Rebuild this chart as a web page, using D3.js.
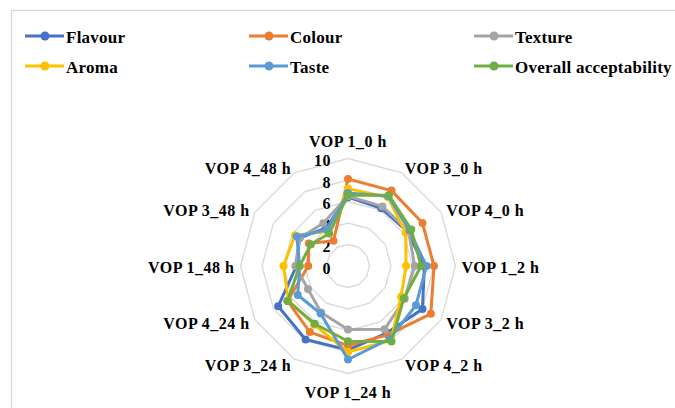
<!DOCTYPE html>
<html>
<head>
<meta charset="utf-8">
<script src="https://cdn.jsdelivr.net/npm/d3@7"></script>
<style>
  html, body { margin: 0; padding: 0; background: #fff; }
  svg { display: block; }
  svg text { font-family: "Liberation Serif", "Times New Roman", Times, Tinos, "DejaVu Serif", "Noto Serif", Georgia, serif; font-weight: 700; letter-spacing: 0.5px; }
  svg text.leg { letter-spacing: 0.25px; }
</style>
</head>
<body>
<svg id="chart" width="675" height="408"></svg>
<script>
const categories = ["VOP 1_0 h", "VOP 3_0 h", "VOP 4_0 h", "VOP 1_2 h", "VOP 3_2 h", "VOP 4_2 h",
                    "VOP 1_24 h", "VOP 3_24 h", "VOP 4_24 h", "VOP 1_48 h", "VOP 3_48 h", "VOP 4_48 h"];
const seriesNames = ["Flavour", "Colour", "Texture", "Aroma", "Taste", "Overall acceptability"];
const flavour = [6.4, 6.2, 6.4, 7.1, 8.0, 7.2, 7.8, 7.9, 7.5, 4.8, 5.2, 4.1];
const colour  = [8.1, 8.1, 8.0, 8.0, 8.9, 7.4, 7.4, 7.1, 6.5, 3.7, 4.2, 2.7];
const texture = [6.5, 6.4, 6.5, 6.2, 6.1, 6.8, 5.9, 5.0, 4.3, 4.9, 5.2, 4.6];
const aroma   = [7.2, 7.4, 6.2, 5.4, 5.7, 8.0, 8.0, 6.3, 6.4, 6.0, 5.7, 3.7];
const taste   = [6.8, 7.5, 6.6, 7.3, 7.3, 7.8, 8.7, 5.1, 5.4, 4.5, 5.5, 3.9];
const overall = [6.6, 7.6, 6.8, 6.8, 6.0, 8.1, 7.0, 6.2, 6.5, 4.5, 4.0, 3.5];
const tickValues = [0, 2, 4, 6, 8, 10];
const colors = ["#4472C4", "#ED7D31", "#A5A5A5", "#FFC000", "#5B9BD5", "#70AD47"];

const seriesData = [flavour, colour, texture, aroma, taste, overall];

const svg = d3.select("#chart");
const cx = 348, cy = 266, R = 107.5;

// frame
svg.append("rect").attr("x", 11.5).attr("y", 10.5).attr("width", 800).attr("height", 600)
  .attr("fill", "none").attr("stroke", "#d9d9d9").attr("stroke-width", 1.3);

const r = d3.scaleLinear().domain([0, 10]).range([0, R]);
const ang = d3.scaleLinear().domain([0, categories.length]).range([0, 2 * Math.PI]);

const g = svg.append("g").attr("transform", `translate(${cx},${cy})`);

// grid rings
const ringLine = d3.lineRadial().angle((d, i) => ang(i)).radius(d => r(d)).curve(d3.curveLinearClosed);
tickValues.filter(v => v > 0).forEach(v => {
  g.append("path").attr("d", ringLine(categories.map(() => v)))
    .attr("fill", "none").attr("stroke", "#d9d9d9").attr("stroke-width", 1.3);
});

function addText(sel, size) {
  return sel.style("font-size", size + "px").attr("fill", "#000");
}

// category labels
categories.forEach((c, i) => {
  const a = ang(i);
  const s = Math.sin(a), co = Math.cos(a);
  const pad = 6;
  let x = (R + pad) * s, y = -(R + pad) * co;
  let anchor = "middle";
  if (s > 0.01) anchor = "start"; else if (s < -0.01) anchor = "end";
  if (Math.abs(s) < 0.01) y += -co * 12;
  addText(g.append("text"), 16).attr("x", x).attr("y", y + 1).attr("text-anchor", anchor)
    .attr("dominant-baseline", "central").text(c);
});

// tick labels
tickValues.forEach(v => {
  addText(g.append("text"), 16).attr("x", -17).attr("y", -r(v) + 2).attr("text-anchor", "end")
    .attr("dominant-baseline", "central").text(v);
});

// series
const line = d3.lineRadial().angle((d, i) => ang(i)).radius(d => r(d)).curve(d3.curveLinearClosed);
seriesData.forEach((vals, si) => {
  const sg = g.append("g");
  sg.append("path").attr("d", line(vals)).attr("fill", "none")
    .attr("stroke", colors[si]).attr("stroke-width", 3).attr("stroke-linejoin", "round");
  sg.selectAll("circle").data(vals).join("circle")
    .attr("cx", (d, i) => r(d) * Math.sin(ang(i)))
    .attr("cy", (d, i) => -r(d) * Math.cos(ang(i)))
    .attr("r", 4).attr("fill", colors[si]);
});

// legend
const legX = [25, 249, 474];
const legY = [36, 66];
seriesNames.forEach((n, i) => {
  const col = i % 3, row = Math.floor(i / 3);
  const lg = svg.append("g").attr("transform", `translate(${legX[col]},${legY[row]})`);
  lg.append("line").attr("x1", 0).attr("x2", 39).attr("y1", 0).attr("y2", 0)
    .attr("stroke", colors[i]).attr("stroke-width", 3);
  lg.append("circle").attr("cx", 20).attr("cy", 0).attr("r", 4.5).attr("fill", colors[i]);
  addText(lg.append("text").attr("class", "leg"), 17).attr("x", 41).attr("y", 1)
    .attr("dominant-baseline", "central").text(n);
});
</script>
</body>
</html>
